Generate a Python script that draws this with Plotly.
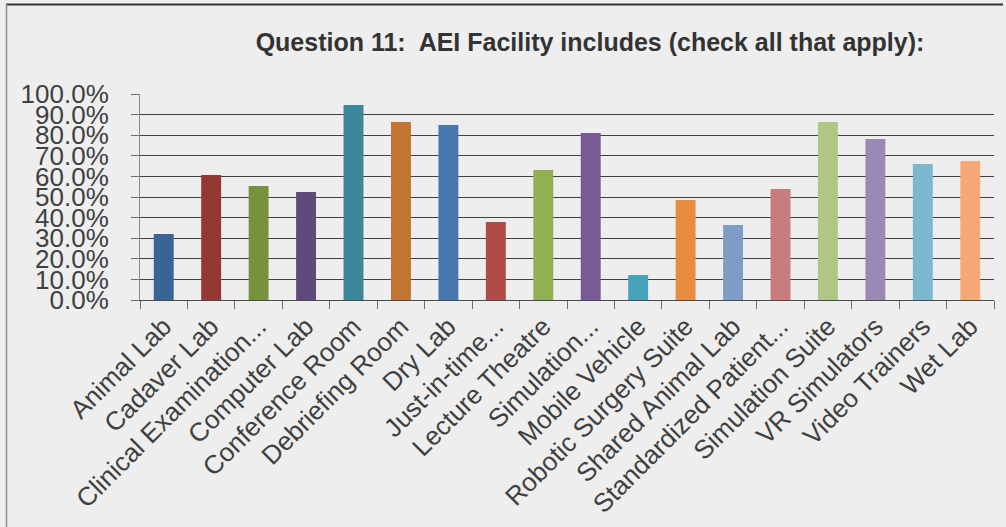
import plotly.graph_objects as go

# Categories and % of respondents
categorias = [
    "Animal Lab", "Cadaver Lab", "Clinical Examination...", "Computer Lab",
    "Conference Room", "Debriefing Room", "Dry Lab", "Just-in-time...",
    "Lecture Theatre", "Simulation...", "Mobile Vehicle",
    "Robotic Surgery Suite", "Shared Animal Lab", "Standardized Patient...",
    "Simulation Suite", "VR Simulators", "Video Trainers", "Wet Lab",
]
valores = [
    32.0, 60.7, 55.3, 52.4, 94.7, 86.4, 85.0, 37.9, 63.1, 81.1, 12.1,
    48.5, 36.4, 53.9, 86.4, 78.2, 66.0, 67.5,
]
cores = [
    "#3B6496", "#953735", "#76923C", "#604A7B", "#3A8799", "#C37432",
    "#4877B0", "#B24A47", "#92AF53", "#765B96", "#47A2BA", "#E98C40",
    "#7F9CC6", "#C97C7B", "#AFC785", "#9B89B3", "#7DB8CF", "#F7A975",
]
ticks_y = [0, 10, 20, 30, 40, 50, 60, 70, 80, 90, 100]

W, H = 1006, 527
L, R, T, B = 140, 12, 94, 227
pw, ph = W - L - R, H - T - B

fig = go.Figure(go.Bar(
    x=categorias,
    y=valores,
    marker=dict(color=cores, line=dict(width=0)),
))

fig.update_layout(
    width=W, height=H,
    margin=dict(l=L, r=R, t=T, b=B, autoexpand=False),
    paper_bgcolor="#EEEEEE",
    plot_bgcolor="#EEEEEE",
    bargap=0.58,
    showlegend=False,
    font=dict(family="Liberation Sans, Arial, sans-serif", color="#404040"),
    title=dict(
        text="<b>Question 11:  AEI Facility includes (check all that apply):</b>",
        x=590 / W, xanchor="center",
        y=1 - 42 / H, yanchor="middle",
        font=dict(size=25, color="#333333"),
    ),
)

fig.update_yaxes(
    range=[0, 100],
    tickvals=ticks_y,
    ticktext=[f"{v:.1f}%" for v in ticks_y],
    tickfont=dict(size=26, color="#404040"),
    showgrid=True, gridcolor="#404040", gridwidth=1,
    showline=True, linecolor="#8C8C8C", linewidth=1,
    ticks="outside", ticklen=8, tickcolor="#6E6E6E",
    ticklabelstandoff=17,
    zeroline=False,
    fixedrange=True,
)
fig.update_xaxes(
    tickangle=-45,
    tickfont=dict(size=26, color="#404040"),
    showline=True, linecolor="#4A4A4A", linewidth=1,
    ticks="outside", ticklen=8, tickcolor="#6E6E6E",
    tickson="boundaries",
    showgrid=False,
    fixedrange=True,
)

# moldura: linha superior escura e linha esquerda cinza
px_x = lambda p: (p - L) / pw
px_y = lambda p: (H - B - p) / ph
fig.add_shape(type="line", xref="paper", yref="paper",
              x0=px_x(6), x1=px_x(1003), y0=px_y(4.5), y1=px_y(4.5),
              line=dict(color="#333333", width=2))
fig.add_shape(type="line", xref="paper", yref="paper",
              x0=px_x(6.5), x1=px_x(6.5), y0=px_y(4), y1=px_y(527),
              line=dict(color="#8C8C8C", width=1.5))

# tirar a margem padrão do body para a figura ocupar a janela toda
fig.write_html("out.html", config={"displayModeBar": False},
               post_script="document.body.style.margin='0';")
